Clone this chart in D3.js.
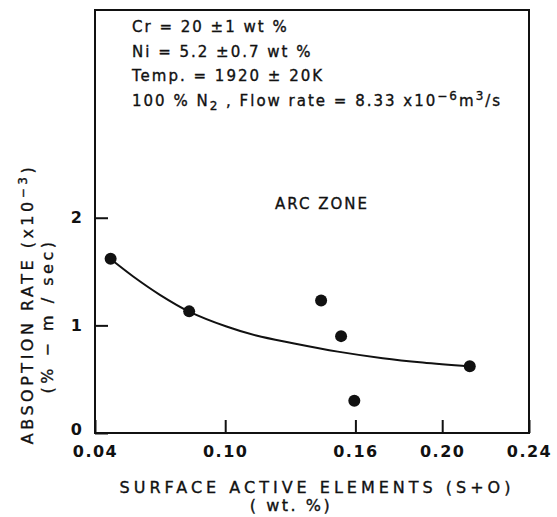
<!DOCTYPE html>
<html>
<head>
<meta charset="utf-8">
<script src="https://cdn.jsdelivr.net/npm/d3@7"></script>
<style>
  body { margin: 0; background: #fff; }
  svg text { font-family: "DejaVu Sans", sans-serif; fill: #111; }
  svg text.lbl { stroke: #111; stroke-width: 0.35px; }
</style>
</head>
<body>
<div class="chart"></div>
<script>
// measured points (S+O wt.%, absorption rate x10^-3)
const surfaceActive = [0.0472, 0.0834, 0.1442, 0.1534, 0.1595, 0.2127];
const absorptionRate = [1.62, 1.13, 1.23, 0.90, 0.30, 0.62];

// hand-drawn trend curve
const curveX = [0.0472, 0.0576, 0.0699, 0.0834, 0.1006, 0.1143, 0.1312, 0.1519, 0.1726, 0.191, 0.2127];
const curveY = [1.616, 1.454, 1.284, 1.128, 0.989, 0.905, 0.834, 0.756, 0.695, 0.654, 0.617];

const xTicks = [0.04, 0.10, 0.16, 0.20, 0.24];
const yTicks = [0, 1, 2];

const notes = [
  "Cr = 20 \u00b11 wt %",
  "Ni = 5.2 \u00b10.7 wt %",
  "Temp. = 1920 \u00b1 20K"
];

var margin = {top: 10, right: 28, bottom: 84, left: 95};
var width = 557 - margin.left - margin.right,
    height = 517 - margin.top - margin.bottom;

const svg = d3.select(".chart").append("svg")
    .attr("width", 557)
    .attr("height", 517)
    .append("g")
    .attr("transform", "translate(" + margin.left + "," + margin.top + ")");

const xScale = d3.scaleLinear().domain([0.04, 0.24]).range([0, width]);
const yScale = d3.scaleLinear().domain([0, 3.93]).range([height, 0]);

const xAxis = d3.axisBottom(xScale)
    .tickValues(xTicks)
    .tickSize(-13)
    .tickPadding(13)
    .tickFormat(d3.format(".2f"));

const yAxis = d3.axisLeft(yScale)
    .tickValues(yTicks)
    .tickSize(-13)
    .tickPadding(13)
    .tickFormat(d3.format("d"));

svg.append("g")
    .attr("class", "axis x-axis")
    .attr("transform", `translate(0, ${height})`)
    .call(xAxis)
    .call(g => g.select(".domain").remove())
    .call(g => g.selectAll(".tick line").attr("stroke", "#111").attr("stroke-width", 2))
    .call(g => g.selectAll(".tick text")
        .style("font-size", "16px")
        .style("font-weight", "bold")
        .attr("letter-spacing", "1.5px"));

svg.append("g")
    .attr("class", "axis y-axis")
    .call(yAxis)
    .call(g => g.select(".domain").remove())
    .call(g => g.selectAll(".tick line").attr("stroke", "#111").attr("stroke-width", 2))
    .call(g => g.selectAll(".tick text")
        .style("font-size", "16px")
        .style("font-weight", "bold")
        .attr("dy", d => d === 0 ? "0.1em" : "0.32em"));

// frame
svg.append("rect")
    .attr("x", 0).attr("y", 0)
    .attr("width", width).attr("height", height)
    .style("fill", "none")
    .style("stroke", "#111")
    .style("stroke-width", 2);

const curveData = curveX.map((x, i) => ({x: x, y: curveY[i]}));
const line = d3.line()
    .x(d => xScale(d.x))
    .y(d => yScale(d.y))
    .curve(d3.curveCatmullRom.alpha(0.5));

svg.append("path")
    .datum(curveData)
    .style("stroke", "#111")
    .style("fill", "none")
    .style("stroke-width", 2)
    .attr("d", line);

svg.append("g")
    .selectAll("circle")
    .data(surfaceActive)
    .enter()
    .append("circle")
      .attr("cx", d => xScale(d))
      .attr("cy", (d, i) => yScale(absorptionRate[i]))
      .attr("r", 6)
      .style("fill", "#111");

// notes in the box
notes.forEach((t, i) => {
  svg.append("text")
      .attr("class", "lbl")
      .attr("x", 37)
      .attr("y", 22 + i * 24.5)
      .style("font-size", "15px")
      .attr("letter-spacing", "2px")
      .text(t);
});

const flow = svg.append("text")
    .attr("class", "lbl")
    .attr("x", 37)
    .attr("y", 96)
    .style("font-size", "15px")
    .attr("letter-spacing", "2px");
flow.append("tspan").text("100 % N");
flow.append("tspan").attr("dy", 4).style("font-size", "12px").text("2");
flow.append("tspan").attr("dy", -4).text(" , Flow rate = 8.33 x10");
flow.append("tspan").attr("dy", -6).style("font-size", "12px").text("\u22126");
flow.append("tspan").attr("dy", 6).text("m");
flow.append("tspan").attr("dy", -6).style("font-size", "12px").text("3");
flow.append("tspan").attr("dy", 6).text("/s");

svg.append("text")
    .attr("class", "lbl")
    .attr("x", 227)
    .attr("y", 199)
    .attr("text-anchor", "middle")
    .style("font-size", "15px")
    .attr("letter-spacing", "2px")
    .text("ARC  ZONE");

// x title
svg.append("text")
    .attr("class", "lbl")
    .attr("x", 222)
    .attr("y", height + 60)
    .attr("text-anchor", "middle")
    .style("font-size", "16px")
    .attr("letter-spacing", "4px")
    .text("SURFACE ACTIVE ELEMENTS (S+O)");

svg.append("text")
    .attr("class", "lbl")
    .attr("x", 196)
    .attr("y", height + 78)
    .attr("text-anchor", "middle")
    .style("font-size", "16px")
    .attr("letter-spacing", "2.5px")
    .text("( wt. %)");

// y title
const yt = svg.append("text")
    .attr("class", "lbl")
    .attr("transform", `translate(${-62}, ${304 - margin.top}) rotate(-90)`)
    .attr("text-anchor", "middle")
    .style("font-size", "16px")
    .attr("letter-spacing", "3.5px");
yt.append("tspan").text("ABSOPTION RATE (x10");
yt.append("tspan").attr("dy", -6).style("font-size", "12px").text("\u22123");
yt.append("tspan").attr("dy", 6).text(")");

svg.append("text")
    .attr("class", "lbl")
    .attr("transform", `translate(${-42}, ${316 - margin.top}) rotate(-90)`)
    .attr("text-anchor", "middle")
    .style("font-size", "16px")
    .attr("letter-spacing", "3.5px")
    .text("(% \u2212 m / sec)");
</script>
</body>
</html>
